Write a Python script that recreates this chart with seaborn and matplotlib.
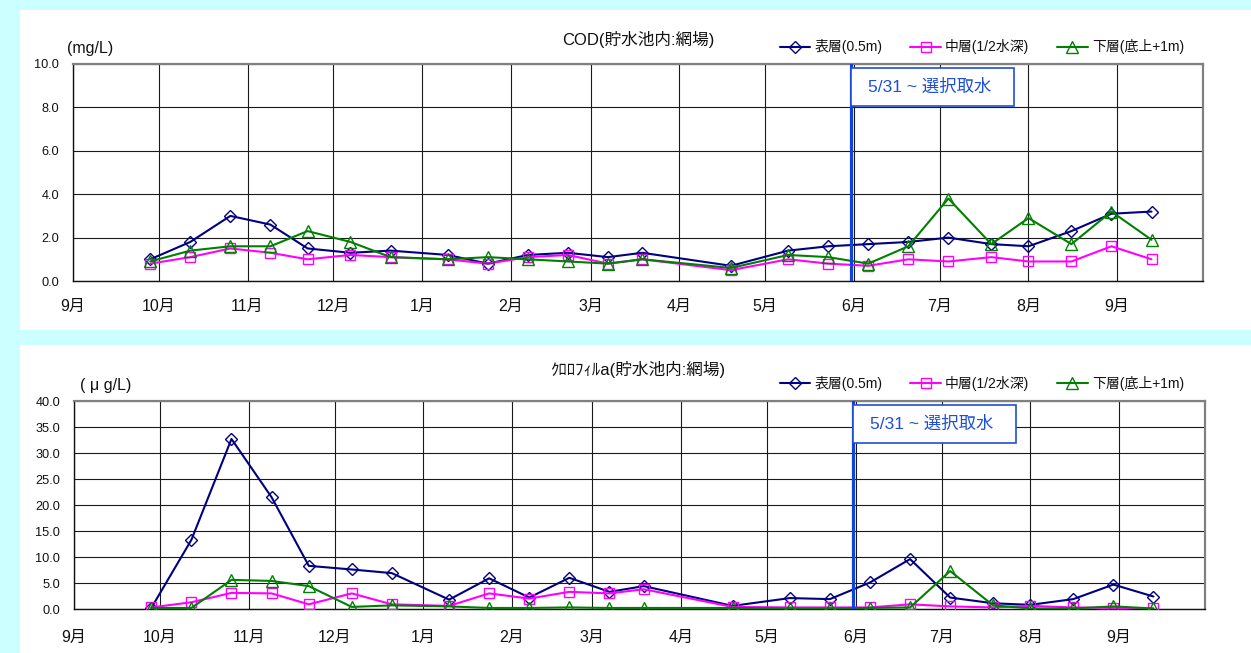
import matplotlib
matplotlib.use("Agg")
import matplotlib.pyplot as plt
import matplotlib.dates as mdates
import numpy as np
import pandas as pd
import seaborn as sns
from matplotlib.patches import Rectangle
from matplotlib.transforms import blended_transform_factory

# Sampling dates (reservoir, net-pen station)
sample_dates = pd.to_datetime([
    "2012-09-28", "2012-10-12", "2012-10-26", "2012-11-09", "2012-11-22",
    "2012-12-07", "2012-12-21", "2013-01-10", "2013-01-24", "2013-02-07",
    "2013-02-21", "2013-03-07", "2013-03-19", "2013-04-19", "2013-05-09",
    "2013-05-23", "2013-06-06", "2013-06-20", "2013-07-04", "2013-07-19",
    "2013-08-01", "2013-08-16", "2013-08-30", "2013-09-13",
])

# COD (mg/L)
cod_surface = [1.0, 1.8, 3.0, 2.6, 1.5, 1.3, 1.4, 1.2, 0.8, 1.2, 1.3, 1.1,
               1.3, 0.7, 1.4, 1.6, 1.7, 1.8, 2.0, 1.7, 1.6, 2.3, 3.1, 3.2]
cod_middle = [0.8, 1.1, 1.5, 1.3, 1.0, 1.2, 1.1, 1.0, 0.8, 1.1, 1.2, 0.8,
              1.0, 0.5, 1.0, 0.8, 0.7, 1.0, 0.9, 1.1, 0.9, 0.9, 1.6, 1.0]
cod_bottom = [0.9, 1.4, 1.6, 1.6, 2.3, 1.8, 1.1, 1.0, 1.1, 1.0, 0.9, 0.8,
              1.0, 0.6, 1.2, 1.1, 0.8, 1.6, 3.8, 1.7, 2.9, 1.7, 3.2, 1.9]

# Chlorophyll a (ug/L)
chl_surface = [0.2, 13.3, 32.7, 21.5, 8.3, 7.6, 6.9, 1.8, 5.9, 2.2, 6.0, 3.3,
               4.4, 0.6, 2.1, 1.9, 5.1, 9.6, 2.2, 1.1, 0.8, 1.9, 4.7, 2.4]
chl_middle = [0.3, 1.3, 3.1, 3.0, 0.9, 3.0, 0.9, 0.6, 3.0, 2.0, 3.3, 3.0,
              3.8, 0.4, 0.3, 0.3, 0.3, 0.9, 0.5, 0.3, 0.6, 0.3, 0.2, 0.1]
chl_bottom = [0.2, 0.2, 5.6, 5.4, 4.4, 0.4, 0.7, 0.5, 0.2, 0.2, 0.3, 0.2,
              0.2, 0.2, 0.1, 0.1, 0.2, 0.3, 7.3, 0.7, 0.1, 0.1, 0.5, 0.1]

layer_labels = ["表層(0.5m)", "中層(1/2水深)", "下層(底上+1m)"]
layer_colors = ["#000080", "#ff00ff", "#008000"]
layer_markers = ["D", "s", "^"]
layer_msize = [6.0, 7.0, 8.0]

axis_start = pd.Timestamp("2012-09-01")
axis_end = pd.Timestamp("2013-10-01")
month_ticks = pd.date_range("2012-09-01", "2013-09-01", freq="MS")
intake_date = pd.Timestamp("2013-05-31")
intake_text = "5/31 ~ 選択取水"

sns.set_theme(style="white")
plt.rcParams["font.family"] = ["Liberation Sans", "Noto Sans CJK JP", "DejaVu Sans"]

W, H = 1251, 653
fig = plt.figure(figsize=(W / 100, H / 100), dpi=100, facecolor="#ccffff")


def fx(px):
    return px / W


def fy(py):
    return 1 - py / H


# white chart panels
for top, bottom in [(10, 330), (345, 653)]:
    fig.add_artist(Rectangle((fx(20), fy(bottom)), fx(W - 20), (bottom - top) / H,
                             transform=fig.transFigure, facecolor="white",
                             edgecolor="none", zorder=-5))


def draw_panel(rect_px, series, ymax, ystep, title, unit, title_y, legend_y,
               unit_x, unit_y, xpad):
    left, top, right, bottom = rect_px
    ax = fig.add_axes([fx(left), fy(bottom), fx(right - left), (bottom - top) / H])
    ax.set_facecolor("white")
    frame = pd.DataFrame({"date": sample_dates})
    for vals, lab, col, mk, ms in zip(series, layer_labels, layer_colors,
                                      layer_markers, layer_msize):
        frame["value"] = vals
        sns.lineplot(data=frame, x="date", y="value", ax=ax, color=col, lw=1.5,
                     marker=mk, markersize=ms, markerfacecolor="none",
                     markeredgecolor=col, markeredgewidth=1.0, label=lab,
                     zorder=4)
    ax.set_xlim(axis_start, axis_end)
    ax.set_ylim(0, ymax)
    ax.set_yticks(np.arange(0, ymax + ystep / 2, ystep))
    ax.yaxis.set_major_formatter(matplotlib.ticker.FormatStrFormatter("%.1f"))
    ax.set_xticks(month_ticks)
    ax.set_xticklabels([f"{d.month}月" for d in month_ticks])
    ax.tick_params(axis="y", labelsize=9.2, length=3, width=0.8, color="black",
                   pad=7, labelcolor="#111111")
    ax.tick_params(axis="x", labelsize=11.5, length=3, width=0.8, color="black",
                   pad=xpad, labelcolor="#111111")
    ax.grid(True, color="#1a1a1a", lw=0.8)
    ax.set_axisbelow(True)
    ax.set_xlabel("")
    ax.set_ylabel("")
    for side in ["left", "bottom"]:
        ax.spines[side].set_color("#111111")
        ax.spines[side].set_linewidth(1.0)
    for side in ["top", "right"]:
        ax.spines[side].set_color("#808080")
        ax.spines[side].set_linewidth(1.6)

    # selective-intake start marker
    ax.axvline(intake_date, color="#1144dd", lw=2.3, zorder=5)
    trans = blended_transform_factory(ax.transData, ax.transAxes)
    box_h = 38 / (bottom - top)
    x0 = mdates.date2num(intake_date)
    ax.add_patch(Rectangle((x0, 1 - 4 / (bottom - top) - box_h), 57, box_h,
                           transform=trans, facecolor="white",
                           edgecolor="#1f4fd8", lw=1.2, zorder=6))
    ax.text(x0 + 27.5, 1 - 4 / (bottom - top) - box_h / 2, intake_text,
            transform=trans, ha="center", va="center", fontsize=12.5,
            color="#1f4fd8", zorder=7)

    leg = ax.legend(loc="center right", bbox_to_anchor=(fx(1184), fy(legend_y)),
                    bbox_transform=fig.transFigure, ncol=3, frameon=False,
                    fontsize=10, handlelength=2.2, handletextpad=0.3,
                    columnspacing=2.0, borderaxespad=0, borderpad=0)
    for t in leg.get_texts():
        t.set_color("#111111")

    fig.text(fx(638), fy(title_y), title, ha="center", va="center",
             fontsize=12, color="#111111")
    fig.text(fx(unit_x), fy(unit_y), unit, ha="left", va="center",
             fontsize=11.5, color="#111111")
    return ax


draw_panel((73, 64, 1203, 281), [cod_surface, cod_middle, cod_bottom], 10.0, 2.0,
           "COD(貯水池内:網場)", "(mg/L)", 40, 47, 67, 48, 10)
draw_panel((74, 401, 1205, 609), [chl_surface, chl_middle, chl_bottom], 40.0, 5.0,
           "ｸﾛﾛﾌｨﾙa(貯水池内:網場)", "( μ g/L)", 369, 383, 80, 386, 12)

fig.savefig("out.png", dpi=100, facecolor=fig.get_facecolor())
